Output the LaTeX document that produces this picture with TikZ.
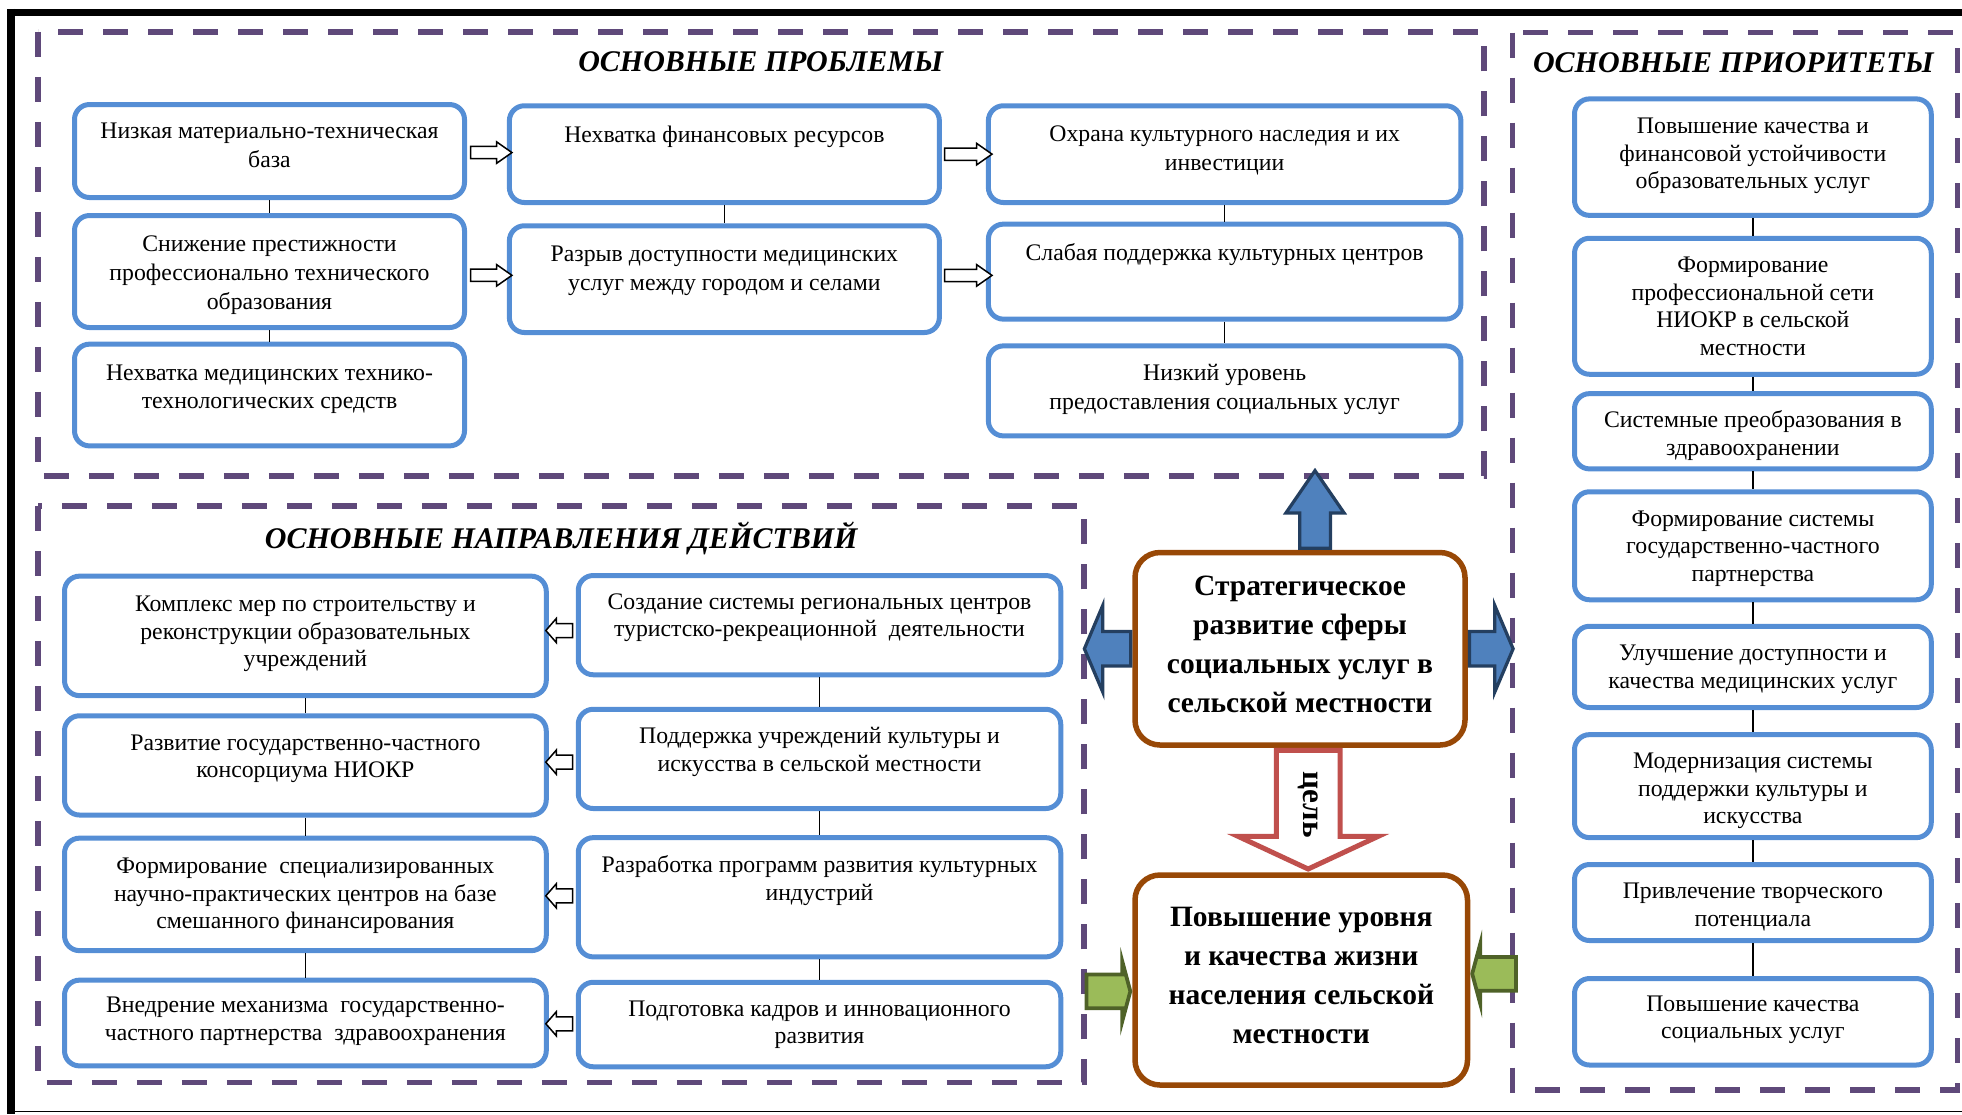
\documentclass[tikz,border=0pt]{standalone}
\usepackage{fontspec}
\setmainfont{Liberation Serif}
\usepackage{tikz}
\usetikzlibrary{positioning,calc,shapes.arrows}
\definecolor{boxblue}{HTML}{558ED5}
\definecolor{framepurple}{HTML}{5F497A}
\definecolor{goalbrown}{HTML}{984806}
\definecolor{arrblue}{HTML}{4F81BD}
\definecolor{arrnavy}{HTML}{243F60}
\definecolor{arrgreen}{HTML}{9BBB59}
\definecolor{arrolive}{HTML}{4F6228}
\definecolor{arrred}{HTML}{C0504D}
\tikzset{every picture/.style={line width=0.6pt}}
\tikzstyle{bbox}=[draw=boxblue,line width=2pt,rounded corners=6pt,fill=white,inner sep=0pt]
\tikzstyle{mbox}=[draw=goalbrown,line width=2.2pt,rounded corners=10pt,fill=white,inner sep=0pt]
\tikzstyle{frame}=[draw=framepurple,line width=2.3pt,dash pattern=on 10pt off 8pt]
\tikzstyle{ttl}=[inner sep=0pt,font=\fontsize{12}{14}\selectfont\bfseries\itshape]
\tikzstyle{txt}=[inner sep=0pt,align=center,font=\fontsize{9.5}{11}\selectfont]
\tikzstyle{ptxt}=[inner sep=0pt,align=center,font=\fontsize{9.5}{11.5}\selectfont]
\tikzstyle{mtxt}=[inner sep=0pt,align=center,font=\fontsize{11.8}{15.5}\selectfont\bfseries]
\tikzstyle{warr}=[single arrow,draw=black,fill=white,line width=0.6pt,inner xsep=0pt,inner ysep=2.15pt,minimum width=8pt,single arrow head extend=1.85pt,single arrow tip angle=70]
\tikzstyle{larr}=[single arrow,draw=black,fill=white,line width=0.6pt,inner xsep=0pt,inner ysep=2.5pt,minimum width=8.9pt,single arrow head extend=2pt,single arrow tip angle=98,minimum height=10.7pt,rotate=180]
\tikzstyle{barr}=[single arrow,draw=arrnavy,fill=arrblue,line width=1.3pt,inner xsep=0pt]
\tikzstyle{garr}=[single arrow,draw=arrolive,fill=arrgreen,line width=1.5pt,inner xsep=0pt,inner ysep=6pt,minimum width=22.5pt,single arrow head extend=5.25pt,single arrow tip angle=150,minimum height=17.5pt]
\tikzstyle{rarr}=[single arrow,draw=arrred,fill=white,line width=2pt,inner xsep=0pt,inner ysep=11.75pt,minimum width=54pt,single arrow head extend=15.25pt,single arrow tip angle=130,minimum height=47.5pt]

\begin{document}
\begin{tikzpicture}[x=0.5pt,y=-0.5pt]
\useasboundingbox (0,0) rectangle (1569.6,891.2);
% outer frame
\draw[line width=3pt] (5.6,10) -- (1569.6,10);
\draw[line width=3pt] (8.6,7) -- (8.6,891.2);
\draw (8.6,889) -- (1569.6,889);
% dashed blocks
\draw[frame] (30.5,25.5) rectangle (1187,381);
\draw[frame] (30.5,405) rectangle (867,866);
\draw[frame] (1210,26) rectangle (1566,872);
\node[ttl] (T1) at (608.6,49.3) {ОСНОВНЫЕ ПРОБЛЕМЫ};
\node[ttl] (T2) at (1386.7,50) {ОСНОВНЫЕ ПРИОРИТЕТЫ};
\node[ttl] (T3) at (449,431) {ОСНОВНЫЕ НАПРАВЛЕНИЯ ДЕЙСТВИЙ};

% problems
\node[bbox,minimum width=156pt,minimum height=37.2pt] (P1) at (215.6,120.8) {};
\node[bbox,minimum width=156pt,minimum height=44.8pt] (P2) at (215.6,217.2) {};
\node[bbox,minimum width=156pt,minimum height=40.7pt] (P3) at (215.6,316) {};
\node[bbox,minimum width=172pt,minimum height=38.7pt] (P4) at (579.5,123.3) {};
\node[bbox,minimum width=172pt,minimum height=42.7pt] (P5) at (579.5,223.3) {};
\node[bbox,minimum width=189pt,minimum height=38.7pt] (P6) at (979.7,123.3) {};
\node[bbox,minimum width=189pt,minimum height=38pt] (P7) at (979.7,217.3) {};
\node[bbox,minimum width=189pt,minimum height=36pt] (P8) at (979.7,312.7) {};
\node[ptxt,below=8.2pt of P1.north] (p1) {Низкая материально-техническая\\база};
\node[ptxt,below=9pt of P2.north] (p2) {Снижение престижности\\профессионально технического\\образования};
\node[ptxt,below=8.9pt of P3.north] (p3) {Нехватка медицинских технико-\\технологических средств};
\node[ptxt,below=8.9pt of P4.north] (p4) {Нехватка финансовых ресурсов};
\node[ptxt,below=8.9pt of P5.north] (p5) {Разрыв доступности медицинских\\услуг между городом и селами};
\node[ptxt,below=8.9pt of P6.north] (p6) {Охрана культурного наследия и их\\инвестиции};
\node[ptxt,below=8.5pt of P7.north] (p7) {Слабая поддержка культурных центров};
\node[ptxt,below=8.2pt of P8.north] (p8) {Низкий уровень\\предоставления социальных услуг};
\path (P1) edge (P2) (P2) edge (P3) (P4) edge (P5) (P6) edge (P7) (P7) edge (P8);
\node[warr,minimum height=16.5pt] (W1) at ($(P1.east)!.5!(P4.west)$) {};
\node[warr,minimum height=16.5pt] (W2) at ($(P2.east)!.5!(P5.west)$) {};
\node[warr,minimum height=19pt] (W3) at ($(P4.east)!.5!(P6.west)$) {};
\node[warr,minimum height=19pt] (W4) at ($(P5.east)!.5!(P7.west)$) {};

% priorities
\node[bbox,minimum width=142.7pt,minimum height=46.6pt] (R1) at (1402.3,125.7) {};
\node[bbox,minimum width=142.7pt,minimum height=54.4pt] (R2) at (1402.3,245) {};
\node[bbox,minimum width=142.7pt,minimum height=30.1pt] (R3) at (1402.3,345) {};
\node[bbox,minimum width=142.7pt,minimum height=43.2pt] (R4) at (1402.3,436.6) {};
\node[bbox,minimum width=142.7pt,minimum height=32.5pt] (R5) at (1402.3,533.5) {};
\node[bbox,minimum width=142.7pt,minimum height=41.2pt] (R6) at (1402.3,628.9) {};
\node[bbox,minimum width=142.7pt,minimum height=30.4pt] (R7) at (1402.3,722) {};
\node[bbox,minimum width=142.7pt,minimum height=34.6pt] (R8) at (1402.3,817.4) {};
\node[txt,below=8.4pt of R1.north] (r1) {Повышение качества и\\финансовой устойчивости\\образовательных услуг};
\node[txt,below=8.3pt of R2.north] (r2) {Формирование\\профессиональной сети\\НИОКР в сельской\\местности};
\node[txt,below=7.6pt of R3.north] (r3) {Системные преобразования в\\здравоохранении};
\node[txt,below=8.3pt of R4.north] (r4) {Формирование системы\\государственно-частного\\партнерства};
\node[txt,below=8.2pt of R5.north] (r5) {Улучшение доступности и\\качества медицинских услуг};
\node[txt,below=8.1pt of R6.north] (r6) {Модернизация системы\\поддержки культуры и\\искусства};
\node[txt,below=8.1pt of R7.north] (r7) {Привлечение творческого\\потенциала};
\node[txt,below=7.6pt of R8.north] (r8) {Повышение качества\\социальных услуг};
\path (R1) edge (R2) (R2) edge (R3) (R3) edge (R4) (R4) edge (R5)
      (R5) edge (R6) (R6) edge (R7) (R7) edge (R8);

% actions
\node[bbox,minimum width=192.7pt,minimum height=47.8pt] (A1) at (244.3,508.7) {};
\node[bbox,minimum width=192.7pt,minimum height=39.7pt] (A2) at (244.3,612.3) {};
\node[bbox,minimum width=192.7pt,minimum height=45pt] (A3) at (244.3,715.5) {};
\node[bbox,minimum width=192.7pt,minimum height=34.3pt] (A4) at (244.3,818.4) {};
\node[bbox,minimum width=193pt,minimum height=39.7pt] (B1) at (655.6,500.1) {};
\node[bbox,minimum width=193pt,minimum height=39.7pt] (B2) at (655.6,607.1) {};
\node[bbox,minimum width=193pt,minimum height=47.7pt] (B3) at (655.6,717.8) {};
\node[bbox,minimum width=193pt,minimum height=33.8pt] (B4) at (655.6,819.6) {};
\node[txt,below=8.8pt of A1.north] (a1) {Комплекс мер по строительству и\\реконструкции образовательных\\учреждений};
\node[txt,below=8.3pt of A2.north] (a2) {Развитие государственно-частного\\консорциума НИОКР};
\node[txt,below=8.7pt of A3.north] (a3) {Формирование~ специализированных\\научно-практических центров на базе\\смешанного финансирования};
\node[txt,below=7.6pt of A4.north] (a4) {Внедрение механизма~ государственно-\\частного партнерства~ здравоохранения};
\node[txt,below=8pt of B1.north] (b1) {Создание системы региональных центров\\туристско-рекреационной~ деятельности};
\node[txt,below=8pt of B2.north] (b2) {Поддержка учреждений культуры и\\искусства в сельской местности};
\node[txt,below=8pt of B3.north] (b3) {Разработка программ развития культурных\\индустрий};
\node[txt,below=8pt of B4.north] (b4) {Подготовка кадров и инновационного\\развития};
\path (A1) edge (A2) (A2) edge (A3) (A3) edge (A4)
      (B1) edge (B2) (B2) edge (B3) (B3) edge (B4);
\node[larr] (L1) at ($(B1.west)!.5!(A1.east)$) {};
\node[larr] (L2) at ($(B2.west)!.5!(A2.east)$) {};
\node[larr] (L3) at ($(B3.west)!.5!(A3.east)$) {};
\node[larr] (L4) at ($(B4.west)!.5!(A4.east)$) {};

% strategy and goal
\node[mbox,minimum width=132pt,minimum height=77pt] (S) at (1040,519) {};
\node[mbox,minimum width=133pt,minimum height=84pt] (G) at (1041,784) {};
\node[mtxt,below=10.3pt of S.north] (s) {Стратегическое\\развитие сферы\\социальных услуг в\\сельской местности};
\node[mtxt,below=13.8pt of G.north] (g) {Повышение уровня\\и качества жизни\\населения сельской\\местности};
\node[barr,rotate=90,anchor=tail,minimum height=31pt,minimum width=22pt,inner ysep=5.5pt,single arrow head extend=5.5pt,single arrow tip angle=69] (Up) at ([xshift=6pt]S.north) {};
\node[barr,rotate=180,anchor=tail,minimum height=18.5pt,minimum width=33.5pt,inner ysep=6.25pt,single arrow head extend=10.5pt,single arrow tip angle=134] (Lt) at (S.west) {};
\node[barr,anchor=tail,minimum height=17.5pt,minimum width=33.5pt,inner ysep=6.25pt,single arrow head extend=10.5pt,single arrow tip angle=134] (Rt) at (S.east) {};
\node[rarr,rotate=-90,anchor=tail] (C) at ([xshift=3.25pt]S.south) {};
\node[rotate=-90,inner sep=0pt,font=\fontsize{12.5}{14}\selectfont\bfseries] (c) at ($(C.tail)!.46!(C.tip)$) {цель};
\node[garr,anchor=tip] (GL) at ([yshift=-4.5pt]G.west) {};
\node[garr,rotate=180,anchor=tip] (GR) at ([yshift=2.5pt]G.east) {};
\end{tikzpicture}
\end{document}
